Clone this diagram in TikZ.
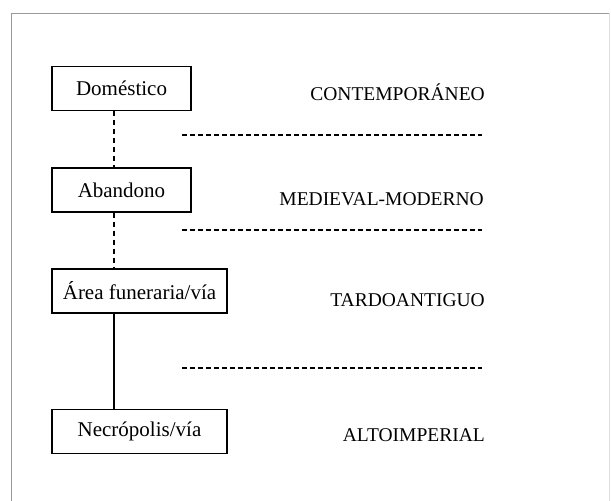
\documentclass[tikz,border=0pt]{standalone}
\usepackage{fontspec}
\setmainfont{Liberation Serif}
\begin{document}
\begin{tikzpicture}[x=1pt,y=-1pt,
  box/.style={draw, line width=1.2pt, minimum height=44pt, inner sep=0pt, font=\fontsize{21}{23}\selectfont},
  era/.style={anchor=east, inner sep=0pt, font=\fontsize{19.5}{22}\selectfont},
  sep/.style={line width=1.3pt, dash pattern=on 5pt off 3pt},
  link/.style={line width=1.1pt},
  frame/.style={draw=gray!80, line width=1pt}]
\useasboundingbox (0,0) rectangle (611,501);
\draw[frame] (11,501) -- (11,13) -- (609,13);
\draw[draw=gray!25, line width=1pt] (609,13) -- (609,501);
\node[box, minimum width=139pt] (dom) at (121.5,88.5) {Doméstico};
\node[box, minimum width=139pt] (aba) at (121.5,190) {Abandono};
\node[box, minimum width=175pt] (are) at (139.5,291) {Área funeraria/vía};
\node[box, minimum width=175pt] (nec) at (139.5,431.5) {Necrópolis/vía};
\coordinate (cx) at (114,0);
\draw[link, dash pattern=on 5pt off 4pt] (dom.south -| cx) -- (aba.north -| cx);
\draw[link, dash pattern=on 5pt off 4pt] (aba.south -| cx) -- (are.north -| cx);
\draw[link] (are.south -| cx) -- (nec.north -| cx);
\node[era] (e1) at (485,92) {CONTEMPORÁNEO};
\node[era] (e2) at (484,199) {MEDIEVAL-MODERNO};
\node[era] (e3) at (485,300) {TARDOANTIGUO};
\node[era] (e4) at (485,435) {ALTOIMPERIAL};
\coordinate (l1a) at (182,135); \coordinate (l1b) at (482,135);
\coordinate (l2a) at (182,230); \coordinate (l2b) at (482,230);
\coordinate (l3a) at (182,368); \coordinate (l3b) at (482,368);
\draw[sep] (l1a) -- (l1b);
\draw[sep] (l2a) -- (l2b);
\draw[sep] (l3a) -- (l3b);
\end{tikzpicture}
\end{document}
